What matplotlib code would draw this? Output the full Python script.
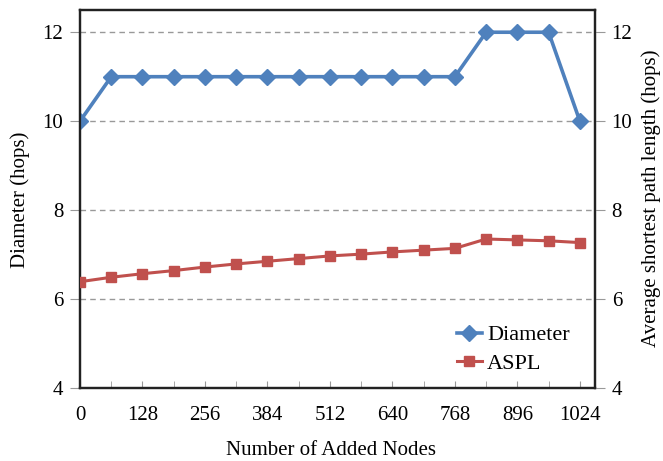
import numpy as np
import matplotlib
matplotlib.use('Agg')
import matplotlib.pyplot as plt

added_nodes = [0, 64, 128, 192, 256, 320, 384, 448, 512, 576, 640, 704, 768, 832, 896, 960, 1024]
diameter = [10, 11, 11, 11, 11, 11, 11, 11, 11, 11, 11, 11, 11, 12, 12, 12, 10]
aspl = [6.39, 6.49, 6.57, 6.64, 6.72, 6.79, 6.85, 6.91, 6.97, 7.01, 7.06, 7.10, 7.14,
        7.35, 7.33, 7.31, 7.27]
x_labels = [0, 128, 256, 384, 512, 640, 768, 896, 1024]
y_ticks = [4, 6, 8, 10, 12]

plt.rcParams['font.family'] = ['Liberation Serif', 'DejaVu Serif']
fs = 15

fig = plt.figure(figsize=(6.63, 4.61), dpi=100)
ax = fig.add_axes([80 / 663, 1 - 388 / 461, 515 / 663, 378 / 461])
ax2 = ax.twinx()

blue = '#4F81BD'
red = '#C0504D'

l1, = ax.plot(added_nodes, diameter, color=blue, lw=2.6, marker='D', markersize=8.5,
              label='Diameter', zorder=4)
l2, = ax2.plot(added_nodes, aspl, color=red, lw=2.2, marker='s', markersize=6.5,
               label='ASPL', zorder=4)

for a in (ax, ax2):
    a.set_ylim(4, 12.5)
    a.set_yticks(y_ticks)
    a.tick_params(axis='y', direction='out', length=7, color='#999999', labelsize=fs, pad=5)
ax.set_xlim(0, 1055)
ax.set_xticks(x_labels)
ax.set_xticks(added_nodes, minor=True)
ax.tick_params(axis='x', which='both', direction='in', length=5, color='#999999',
               labelsize=fs, pad=13)

for y in y_ticks[1:]:
    ax.axhline(y, color='#999999', lw=1, ls=(0, (4, 3)), zorder=1)

for a in (ax, ax2):
    for s in a.spines.values():
        s.set_color('#222222')
        s.set_linewidth(1.6)

fig.text(20 / 663, 1 - 200 / 461, 'Diameter (hops)', fontsize=fs, rotation=90,
         ha='center', va='center')
fig.text(651 / 663, 1 - 198 / 461, 'Average shortest path length (hops)', fontsize=fs,
         rotation=90, ha='center', va='center')
fig.text(0.5 * (80 + 595) / 663 - 0.01, 1 - 450 / 461, 'Number of Added Nodes', fontsize=fs,
         ha='center', va='center')

ax2.legend([l1, l2], ['Diameter', 'ASPL'], loc='lower right', frameon=False, fontsize=16,
           handlelength=1.1, handletextpad=0.25, labelspacing=0.35,
           bbox_to_anchor=(0.99, -0.015))

fig.savefig('out.png', dpi=100)
